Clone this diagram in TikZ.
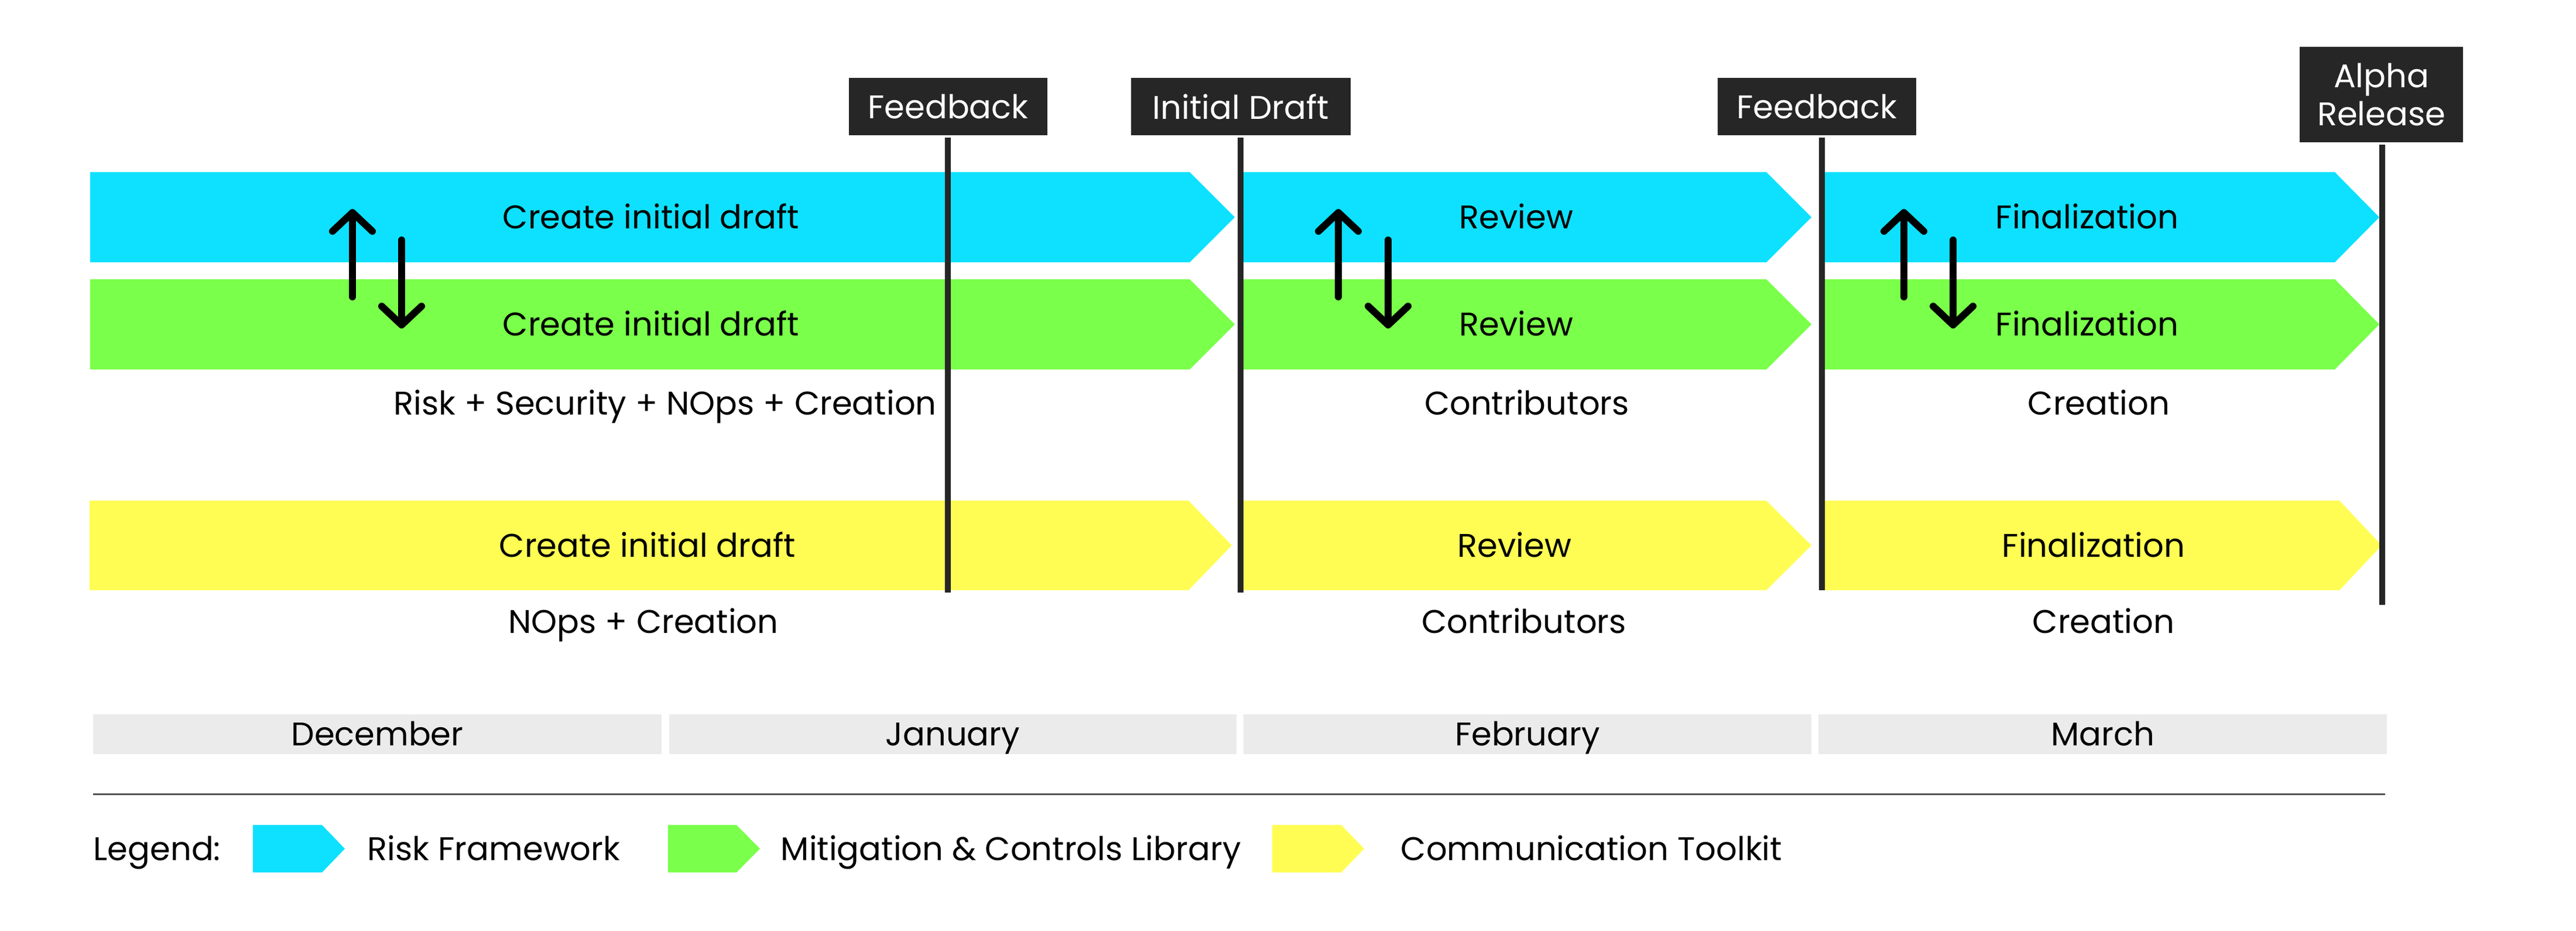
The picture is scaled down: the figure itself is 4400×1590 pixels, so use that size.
\documentclass[tikz,border=0pt]{standalone}
\usepackage{fontspec}
\setmainfont{Poppins}
\usetikzlibrary{arrows.meta}
\definecolor{cblue}{HTML}{0DE1FF}
\definecolor{cgreen}{HTML}{7AFF4A}
\definecolor{cyellow}{HTML}{FFFD54}
\definecolor{cdark}{HTML}{262626}
\definecolor{cmonth}{HTML}{EBEBEB}
\definecolor{crule}{HTML}{555555}
\newcommand\chev[6]{\fill[#1] (#2,#5) -- (#3,#5) -- (#4,{(#5+#6)/2}) -- (#3,#6) -- (#2,#6) -- cycle;}
\begin{document}
\begin{tikzpicture}[x=0.25pt,y=-0.25pt,
  txt/.style={font=\fontsize{14}{17}\selectfont, text=black, inner sep=0pt, text height=9.8pt, text depth=0pt},
  tag/.style={fill=cdark, text=white, font=\fontsize{14}{16.25}\selectfont, inner sep=0pt, align=center, minimum height=24.5pt},
  vline/.style={draw=cdark, line width=2.4pt},
  month/.style={fill=cmonth, txt, minimum height=17pt},
  swap/.style={line width=3pt, line cap=round, -{Straight Barb[length=8pt,width=17pt,round]}}]
\useasboundingbox (0,0) rectangle (4400,1590);
% chevrons
\chev{cblue}{154}{2032}{2109}{294}{448}
\chev{cblue}{2124}{3017}{3094}{294}{448}
\chev{cblue}{3115}{3988}{4064}{294}{448}
\chev{cgreen}{154}{2032}{2109}{477}{631}
\chev{cgreen}{2124}{3017}{3094}{477}{631}
\chev{cgreen}{3115}{3988}{4064}{477}{631}
\chev{cyellow}{153}{2030}{2104}{855}{1008}
\chev{cyellow}{2124}{3017}{3094}{855}{1008}
\chev{cyellow}{3115}{3996}{4068}{855}{1008}
% milestone tags
\node[tag, minimum width=84.75pt] (fb1) at (1619.5,182) {Feedback};
\node[tag, minimum width=93.75pt] (idr) at (2119.5,182) {Initial Draft};
\node[tag, minimum width=84.75pt] (fb2) at (3103.5,182) {Feedback};
\node[tag, minimum width=69.75pt, minimum height=40.75pt] (alp) at (4067.5,161.5) {Alpha\\Release};
\coordinate (fb1e) at (1619,1012);
\coordinate (idre) at (2119,1012);
\coordinate (fb2e) at (3112,1008);
\coordinate (alpe) at (4069,1033);
\draw[vline] ([yshift=-0.8pt]fb1e |- fb1.south) -- (fb1e);
\draw[vline] ([yshift=-0.8pt]idre |- idr.south) -- (idre);
\draw[vline] ([yshift=-0.8pt]fb2e |- fb2.south) -- (fb2e);
\draw[vline] ([yshift=-0.8pt]alpe |- alp.south) -- (alpe);
% bar texts
\node[txt] (b1) at (1112,371) {Create initial draft};
\node[txt] (b2) at (2590,371) {Review};
\node[txt] (b3) at (3565,371) {Finalization};
\node[txt] (g1) at (1112,554) {Create initial draft};
\node[txt] (g2) at (2590,554) {Review};
\node[txt] (g3) at (3565,554) {Finalization};
\node[txt] (y1) at (1106,932) {Create initial draft};
\node[txt] (y2) at (2587,932) {Review};
\node[txt] (y3) at (3576,932) {Finalization};
% owners
\node[txt] (o1) at (1136,689) {Risk + Security + NOps + Creation};
\node[txt] (o2) at (2608,689) {Contributors};
\node[txt] (o3) at (3585,689) {Creation};
\node[txt] (p1) at (1099,1062) {NOps + Creation};
\node[txt] (p2) at (2603,1062) {Contributors};
\node[txt] (p3) at (3593,1062) {Creation};
% swap arrows
\coordinate (u1s) at (602,507); \coordinate (u1e) at (602,357);
\coordinate (d1s) at (686,410); \coordinate (d1e) at (686,561);
\coordinate (u2s) at (2286,507); \coordinate (u2e) at (2286,357);
\coordinate (d2s) at (2371,410); \coordinate (d2e) at (2371,561);
\coordinate (u3s) at (3252,507); \coordinate (u3e) at (3252,357);
\coordinate (d3s) at (3336,410); \coordinate (d3e) at (3336,561);
\draw[swap] (u1s) -- (u1e);
\draw[swap] (d1s) -- (d1e);
\draw[swap] (u2s) -- (u2e);
\draw[swap] (d2s) -- (d2e);
\draw[swap] (u3s) -- (u3e);
\draw[swap] (d3s) -- (d3e);
% months
\node[month, minimum width=242.75pt] (dec) at (644.5,1254) {December};
\node[month, minimum width=242.25pt] (jan) at (1627.5,1254) {January};
\node[month, minimum width=242.5pt] (feb) at (2609,1254) {February};
\node[month, minimum width=242.75pt] (mar) at (3591.5,1254) {March};
% rule
\coordinate (rl) at (159,1357); \coordinate (rr) at (4074,1357);
\draw[crule, line width=0.75pt] (rl) -- (rr);
% legend
\node[txt, anchor=west] (leg) at (159,1450) {Legend:};
\chev{cblue}{432}{550}{589}{1409}{1490}
\chev{cgreen}{1141}{1258}{1298}{1409}{1490}
\chev{cyellow}{2173}{2291}{2330}{1409}{1490}
\node[txt, anchor=west] (l1) at (627,1450) {Risk Framework};
\node[txt, anchor=west] (l2) at (1333,1450) {Mitigation \& Controls Library};
\node[txt, anchor=west] (l3) at (2392,1450) {Communication Toolkit};
\end{tikzpicture}
\end{document}
